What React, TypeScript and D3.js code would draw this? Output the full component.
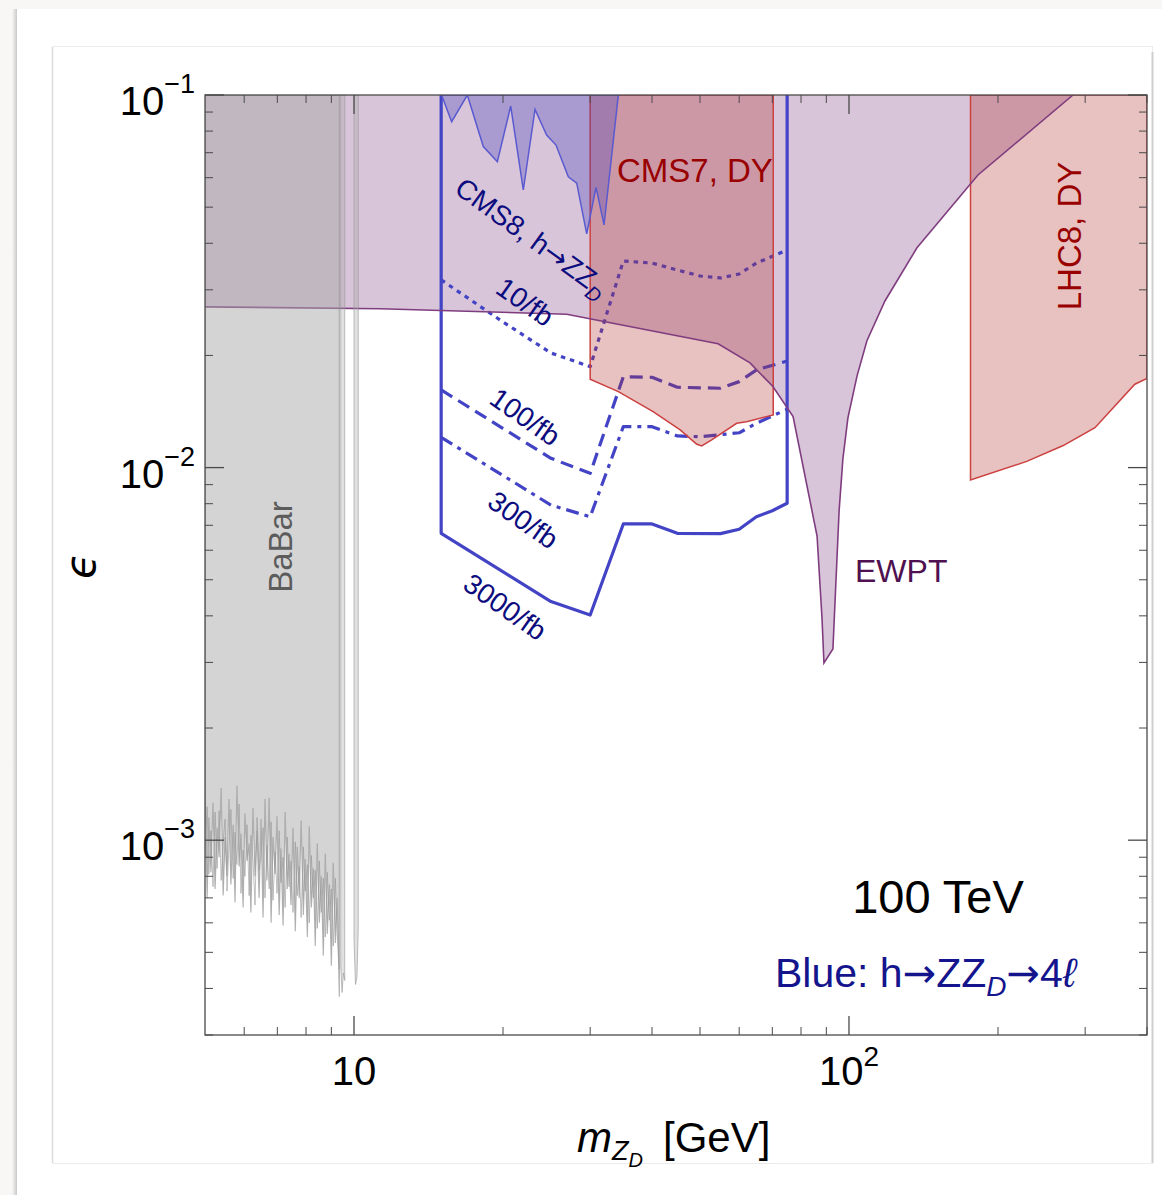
import React, { useRef, useEffect } from "react";
import * as d3 from "d3";

const W = 1162;
const H = 1195;
const FONT = "'Liberation Sans', Arial, Helvetica, sans-serif";
const ARROW_FONT = "'DejaVu Sans', sans-serif";

// BaBar lower edge (noisy), mass in GeV, epsilon in units of 1e-4
const babarMass = [5.0, 5.05, 5.09, 5.14, 5.19, 5.24, 5.29, 5.34, 5.39, 5.44, 5.49, 5.54, 5.59, 5.64, 5.7, 5.75, 5.8, 5.86, 5.91, 5.97, 6.02, 6.08, 6.14, 6.19, 6.25, 6.31, 6.37, 6.43, 6.49, 6.55, 6.61, 6.67, 6.74, 6.8, 6.86, 6.93, 6.99, 7.06, 7.12, 7.19, 7.26, 7.33, 7.39, 7.46, 7.53, 7.61, 7.68, 7.75, 7.82, 7.9, 7.97, 8.05, 8.12, 8.2, 8.28, 8.35, 8.43, 8.51, 8.59, 8.67, 8.75, 8.83, 8.92, 9.0, 9.08, 9.17, 9.25, 9.34];
const babarEps = [14.2, 7.0, 11.5, 8.2, 12.6, 7.4, 10.8, 9.0, 13.8, 7.1, 10.2, 8.0, 12.9, 7.6, 11.0, 6.8, 14.0, 8.5, 10.4, 6.6, 11.8, 8.8, 9.8, 6.4, 12.2, 8.0, 10.6, 7.0, 11.4, 6.2, 12.9, 7.8, 13.0, 6.0, 10.2, 8.1, 11.6, 6.3, 9.5, 5.9, 11.9, 7.4, 9.2, 6.7, 10.8, 5.7, 9.6, 7.0, 11.3, 6.3, 8.9, 5.5, 10.9, 6.6, 8.4, 5.2, 9.8, 6.0, 8.0, 4.9, 9.2, 5.6, 7.6, 4.6, 8.7, 5.3, 7.0, 3.8];
// second BaBar scan (overlaid line only)
const babarEps2 = [9.0, 12.3, 8.1, 10.6, 7.5, 11.9, 8.4, 12.0, 7.8, 9.9, 11.4, 7.3, 9.6, 12.1, 7.9, 10.5, 8.6, 12.5, 7.2, 9.4, 8.0, 11.0, 7.1, 10.3, 8.9, 6.7, 11.5, 8.3, 9.1, 10.8, 7.0, 9.7, 7.4, 11.2, 6.9, 9.3, 7.2, 10.6, 7.7, 9.0, 6.6, 10.2, 7.5, 8.8, 6.4, 9.9, 7.1, 8.5, 6.2, 9.6, 7.3, 8.6, 6.0, 9.1, 7.0, 8.3, 5.8, 8.8, 6.4, 7.9, 5.5, 8.2, 6.1, 7.4, 5.2, 7.9, 5.6, 4.5];
// thin BaBar strips around the Upsilon masses
const babarStripA = [[9.4, 4.6], [9.46, 3.9], [9.52, 4.4], [9.58, 4.2]];
const babarStripB = [[10.0, 5.4], [10.07, 4.1], [10.14, 4.3], [10.2, 5.8]];

// EWPT exclusion boundary (region above is excluded)
const ewptEdge = [[5, 0.027], [11.3, 0.0267], [26.9, 0.0258], [54.4, 0.0215], [63.1, 0.0191], [70.2, 0.0165], [77.1, 0.0137], [86.2, 0.00655], [88.2, 0.00395], [89.0, 0.00299], [92.8, 0.00326], [95.5, 0.00765], [97.2, 0.01055], [99.5, 0.0136], [103.8, 0.0176], [108.7, 0.0219], [118.2, 0.028], [137.2, 0.0389], [182.2, 0.061], [283.5, 0.1]];

// CMS7 Drell-Yan
const cms7Edge = [[30, 0.1], [30, 0.01726], [34.2, 0.01599], [40.2, 0.01413], [45.6, 0.01262], [49.2, 0.01157], [50.4, 0.01143], [52.8, 0.01186], [59.3, 0.01315], [62.1, 0.01328], [70.3, 0.01384], [70.3, 0.1]];
// LHC8 Drell-Yan
const lhc8Edge = [[176, 0.1], [176, 0.00926], [228.6, 0.01039], [270.9, 0.01146], [314, 0.01279], [378, 0.01674], [400, 0.01736], [400, 0.1]];
// CMS8 h -> Z Z_D
const cms8Edge = [[15.03, 0.1], [15.75, 0.0848], [16.94, 0.1], [18.25, 0.0727], [19.48, 0.0662], [20.73, 0.0934], [21.98, 0.0556], [23.21, 0.0915], [24.5, 0.0781], [25.59, 0.0734], [27.1, 0.0603], [28.18, 0.058], [29.52, 0.0424], [30.83, 0.0565], [32.0, 0.0448], [34.2, 0.1]];

// 100 TeV projections, h -> Z Z_D -> 4l
const lumi10 = [[15, 0.0319], [20, 0.0246], [25, 0.0203], [30, 0.01866], [35, 0.03584], [40, 0.0354], [45, 0.03391], [50, 0.03268], [55, 0.03228], [60, 0.03308], [65, 0.0354], [75, 0.03837]];
const lumi100 = [[15, 0.01616], [25, 0.01059], [30, 0.00965], [35, 0.01754], [40, 0.01747], [45, 0.01643], [55, 0.01633], [60, 0.01701], [65, 0.01828], [75, 0.01932]];
const lumi300 = [[15, 0.01206], [25, 0.00793], [30, 0.00738], [35, 0.01288], [40, 0.01288], [45, 0.01216], [50, 0.0121], [60, 0.0124], [65, 0.01315], [75, 0.01434]];
const lumi3000 = [[15, 0.1], [15, 0.00666], [25, 0.00437], [30, 0.00402], [35, 0.00706], [40, 0.00706], [45, 0.00666], [55, 0.00665], [60, 0.00683], [65, 0.00738], [70, 0.00766], [75, 0.00802], [75, 0.1]];

// ticks
const xMajor = [10, 100];
const xMajorExp = ["", "2"];
const xMinor = [6, 7, 8, 9, 20, 30, 40, 50, 60, 70, 80, 90, 200, 300, 400];
const yMajor = [0.1, 0.01, 0.001];
const yMajorExp = ["\u22121", "\u22122", "\u22123"];
const yMinor = [0.0003, 0.0004, 0.0005, 0.0006, 0.0007, 0.0008, 0.0009, 0.002, 0.003, 0.004, 0.005, 0.006, 0.007, 0.008, 0.009, 0.02, 0.03, 0.04, 0.05, 0.06, 0.07, 0.08, 0.09];

const App = () => {
  const svgRef = useRef(null);

  useEffect(() => {
    const svg = d3.select(svgRef.current);
    svg.selectAll("*").remove();

    const x = d3.scaleLog().domain([5, 400]).range([205, 1147]);
    const y = d3.scaleLog().domain([3e-4, 0.1]).range([1035, 95]);
    const [xl, xr] = x.range();
    const [yb, yt] = y.range();

    const defs = svg.append("defs");
    const grad = defs.append("linearGradient").attr("id", "shadow").attr("x1", 0).attr("x2", 1).attr("y1", 0).attr("y2", 0);
    grad.append("stop").attr("offset", "0%").attr("stop-color", "#f8f7f5");
    grad.append("stop").attr("offset", "100%").attr("stop-color", "#c9c9c9");
    defs.append("clipPath").attr("id", "plotClip").append("rect")
      .attr("x", xl).attr("y", yt).attr("width", xr - xl).attr("height", yb - yt);

    // page chrome
    svg.append("rect").attr("width", W).attr("height", H).attr("fill", "#f8f7f5");
    svg.append("rect").attr("x", 12).attr("y", 9).attr("width", 5).attr("height", H).attr("fill", "url(#shadow)");
    svg.append("rect").attr("x", 17).attr("y", 9).attr("width", W).attr("height", H).attr("fill", "#fff");
    svg.append("rect").attr("x", 52.5).attr("y", 46.5).attr("width", 1100).attr("height", 1117)
      .attr("fill", "#fff").attr("stroke", "#ececec");
    svg.append("line").attr("x1", 52.5).attr("x2", 52.5).attr("y1", 47).attr("y2", 1163).attr("stroke", "#dcdcdc").attr("stroke-width", 1.5);
    svg.append("line").attr("x1", 1152.5).attr("x2", 1152.5).attr("y1", 52).attr("y2", 1163).attr("stroke", "#cfcfcf").attr("stroke-width", 2);

    const line = d3.line().x((d) => x(d[0])).y((d) => y(d[1]));
    const plot = svg.append("g").attr("clip-path", "url(#plotClip)");

    // EWPT
    plot.append("path").attr("d", line([[5, 0.1], ...ewptEdge]) + "Z")
      .attr("fill", "rgba(128,64,128,0.3)");

    // projected contours
    const contour = (data, dash) => {
      plot.append("path").attr("d", line(data)).attr("fill", "none")
        .attr("stroke", "#4343c6").attr("stroke-width", 3.2)
        .attr("stroke-dasharray", dash).attr("stroke-linejoin", "round");
    };
    contour(lumi3000, null);
    contour(lumi300, "13,6,4,6");
    contour(lumi100, "13,7");
    contour(lumi10, "4.5,5");

    // Drell-Yan bounds
    [cms7Edge, lhc8Edge].forEach((edge) => {
      plot.append("path").attr("d", line(edge) + "Z")
        .attr("fill", "rgba(180,50,50,0.3)").attr("stroke", "#cc4040").attr("stroke-width", 1.5);
    });

    // CMS8 h -> Z Z_D
    plot.append("path").attr("d", line(cms8Edge) + "Z")
      .attr("fill", "rgba(60,60,190,0.3)").attr("stroke", "#5a5ad0").attr("stroke-width", 1.5);

    // EWPT boundary line
    plot.append("path").attr("d", line(ewptEdge)).attr("fill", "none")
      .attr("stroke", "#7f3d7f").attr("stroke-width", 1.6);

    // BaBar
    const babarPts = babarMass.map((m, i) => [m, babarEps[i] * 1e-4]);
    plot.append("path").attr("d", line([[5, 0.1], ...babarPts, [9.34, 0.1]]) + "Z")
      .attr("fill", "rgba(170,170,170,0.5)").attr("stroke", "rgba(150,150,150,0.7)").attr("stroke-width", 1.2);
    plot.append("path").attr("d", line(babarMass.map((m, i) => [m, babarEps2[i] * 1e-4])))
      .attr("fill", "none").attr("stroke", "rgba(150,150,150,0.6)").attr("stroke-width", 1);
    [babarStripA, babarStripB].forEach((strip) => {
      const pts = strip.map((d) => [d[0], d[1] * 1e-4]);
      plot.append("path")
        .attr("d", line([[strip[0][0], 0.1], ...pts, [strip[strip.length - 1][0], 0.1]]) + "Z")
        .attr("fill", "rgba(170,170,170,0.35)").attr("stroke", "rgba(150,150,150,0.6)").attr("stroke-width", 1);
    });

    // frame and ticks
    const axis = svg.append("g").attr("stroke", "#4a4a4a");
    axis.append("rect").attr("x", xl).attr("y", yt).attr("width", xr - xl).attr("height", yb - yt)
      .attr("fill", "none").attr("stroke-width", 1.3);
    const tick = (v, len, sw) => {
      axis.append("line").attr("x1", x(v)).attr("x2", x(v)).attr("y1", yb).attr("y2", yb - len).attr("stroke-width", sw);
      axis.append("line").attr("x1", x(v)).attr("x2", x(v)).attr("y1", yt).attr("y2", yt + len).attr("stroke-width", sw);
    };
    const ytick = (v, len, sw) => {
      axis.append("line").attr("y1", y(v)).attr("y2", y(v)).attr("x1", xl).attr("x2", xl + len).attr("stroke-width", sw);
      axis.append("line").attr("y1", y(v)).attr("y2", y(v)).attr("x1", xr).attr("x2", xr - len).attr("stroke-width", sw);
    };
    xMajor.forEach((v) => tick(v, 19, 1.3));
    xMinor.forEach((v) => tick(v, 8, 1));
    yMajor.forEach((v) => ytick(v, 19, 1.3));
    yMinor.forEach((v) => ytick(v, 8, 1));

    // tick labels
    const labels = svg.append("g").attr("font-family", FONT).attr("fill", "#000");
    xMajor.forEach((v, i) => {
      const t = labels.append("text").attr("x", x(v)).attr("y", 1085)
        .attr("text-anchor", "middle").attr("font-size", 40);
      t.append("tspan").text("10");
      if (xMajorExp[i]) t.append("tspan").attr("font-size", 28).attr("dy", -19).text(xMajorExp[i]);
    });
    yMajor.forEach((v, i) => {
      const t = labels.append("text").attr("x", 195).attr("y", y(v) + 20)
        .attr("text-anchor", "end").attr("font-size", 40);
      t.append("tspan").text("10");
      t.append("tspan").attr("font-size", 27).attr("dy", -22).text(yMajorExp[i]);
    });

    // axis titles
    const xt = labels.append("text").attr("x", 577).attr("y", 1152).attr("font-size", 42);
    xt.append("tspan").attr("font-style", "italic").text("m");
    xt.append("tspan").attr("font-style", "italic").attr("font-size", 27).attr("dy", 8).text("Z");
    xt.append("tspan").attr("font-style", "italic").attr("font-size", 20).attr("dy", 7).text("D");
    xt.append("tspan").attr("x", 663).attr("y", 1152).text("[GeV]");

    labels.append("text")
      .attr("transform", "translate(80,566) rotate(-90)")
      .attr("text-anchor", "middle").attr("dominant-baseline", "central")
      .attr("font-size", 42).attr("font-style", "italic")
      .attr("font-family", "'DejaVu Sans', " + FONT)
      .text("\u03f5");

    // region labels
    labels.append("text").attr("x", 617).attr("y", 182).attr("font-size", 33).attr("fill", "#990000").text("CMS7, DY");
    labels.append("text").attr("transform", "translate(1069,236) rotate(-90)")
      .attr("text-anchor", "middle").attr("dominant-baseline", "central")
      .attr("font-size", 33).attr("fill", "#990000").text("LHC8, DY");
    labels.append("text").attr("x", 855).attr("y", 582).attr("font-size", 32).attr("fill", "#4f114f").text("EWPT");
    labels.append("text").attr("transform", "translate(280,547) rotate(-90)")
      .attr("text-anchor", "middle").attr("dominant-baseline", "central")
      .attr("font-size", 33).attr("fill", "#5c5c5c").text("BaBar");

    const navy = "#0c0c7e";
    const cms8 = labels.append("text").attr("transform", "translate(532,237) rotate(36)")
      .attr("text-anchor", "middle").attr("y", 10).attr("font-size", 28).attr("fill", navy);
    cms8.append("tspan").text("CMS8, h");
    cms8.append("tspan").attr("font-family", ARROW_FONT).text("\u2192");
    cms8.append("tspan").text("ZZ");
    cms8.append("tspan").attr("font-style", "italic").attr("font-size", 20).attr("dy", 7).text("D");

    const fbLabels = [["10/fb", 525, 302], ["100/fb", 525, 417], ["300/fb", 523, 520], ["3000/fb", 505, 607]];
    fbLabels.forEach(([s, cx, cy]) => {
      labels.append("text").attr("transform", `translate(${cx},${cy}) rotate(35)`)
        .attr("text-anchor", "middle").attr("dominant-baseline", "central")
        .attr("font-size", 28).attr("fill", navy).text(s);
    });

    labels.append("text").attr("x", 938).attr("y", 913).attr("text-anchor", "middle")
      .attr("font-size", 47).attr("fill", "#000").text("100 TeV");

    const blue = labels.append("text").attr("x", 775).attr("y", 987).attr("font-size", 41).attr("fill", "#14148c");
    blue.append("tspan").text("Blue: h");
    blue.append("tspan").attr("font-family", ARROW_FONT).attr("font-size", 40).text("\u2192");
    blue.append("tspan").text("ZZ");
    blue.append("tspan").attr("font-style", "italic").attr("font-size", 28).attr("dy", 9).text("D");
    blue.append("tspan").attr("font-family", ARROW_FONT).attr("font-size", 40).attr("dy", -9).text("\u2192");
    blue.append("tspan").text("4");
    blue.append("tspan").attr("font-style", "italic").text("\u2113");
  }, []);

  return (
    <div style={{ position: "absolute", left: 0, top: 0 }}>
      <svg ref={svgRef} width={W} height={H} style={{ display: "block" }}></svg>
    </div>
  );
};

export default App;
